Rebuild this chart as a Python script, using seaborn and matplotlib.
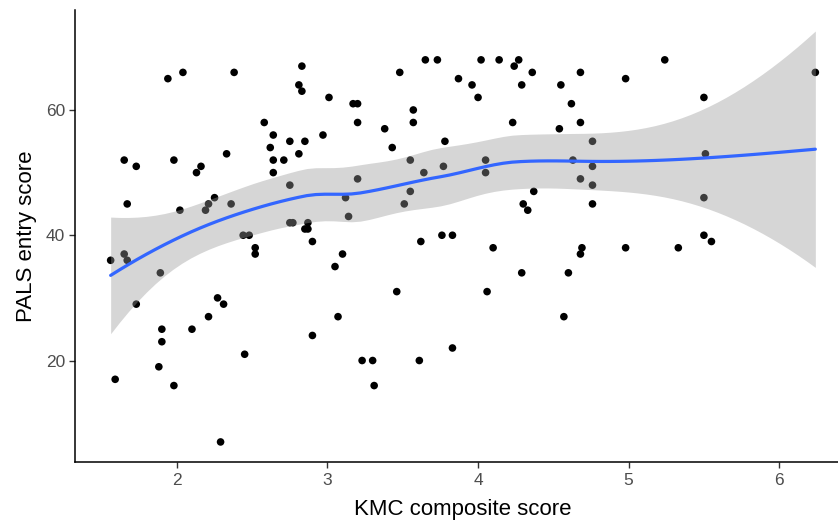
import numpy as np
import pandas as pd
import matplotlib
matplotlib.use("Agg")
import matplotlib.pyplot as plt
import seaborn as sns

# KMC composite score vs PALS entry score
kmc_score = [
    1.56, 1.59, 1.65, 1.67, 1.65, 1.73, 1.67, 1.73, 1.89, 1.90,
    1.90, 1.88, 1.94, 1.98, 1.98, 2.02, 2.04, 2.10, 2.13, 2.16,
    2.19, 2.21, 2.21, 2.25, 2.27, 2.29, 2.31, 2.33, 2.36, 2.38,
    2.44, 2.45, 2.48, 2.52, 2.52, 2.58, 2.62, 2.64, 2.64, 2.64,
    2.71, 2.75, 2.75, 2.75, 2.77, 2.81, 2.81, 2.83, 2.83, 2.85,
    2.85, 2.87, 2.87, 2.90, 2.90, 2.97, 3.01, 3.05, 3.07, 3.10,
    3.12, 3.14, 3.17, 3.20, 3.20, 3.20, 3.23, 3.30, 3.31, 3.38,
    3.43, 3.46, 3.48, 3.51, 3.55, 3.55, 3.57, 3.57, 3.61, 3.62,
    3.64, 3.65, 3.73, 3.76, 3.77, 3.78, 3.83, 3.83, 3.87, 3.96,
    4.00, 4.02, 4.05, 4.05, 4.06, 4.10, 4.14, 4.23, 4.24, 4.27,
    4.29, 4.29, 4.30, 4.33, 4.36, 4.37, 4.54, 4.55, 4.57, 4.60,
    4.62, 4.63, 4.68, 4.68, 4.68, 4.68, 4.69, 4.76, 4.76, 4.76,
    4.76, 4.98, 4.98, 5.24, 5.33, 5.50, 5.51, 5.50, 5.50, 5.55,
    6.24,
]
pals_score = [
    36, 17, 37, 36, 52, 51, 45, 29, 34, 25,
    23, 19, 65, 52, 16, 44, 66, 25, 50, 51,
    44, 45, 27, 46, 30, 7, 29, 53, 45, 66,
    40, 21, 40, 38, 37, 58, 54, 56, 52, 50,
    52, 55, 48, 42, 42, 64, 53, 67, 63, 55,
    41, 42, 41, 39, 24, 56, 62, 35, 27, 37,
    46, 43, 61, 61, 58, 49, 20, 20, 16, 57,
    54, 31, 66, 45, 52, 47, 60, 58, 20, 39,
    50, 68, 68, 40, 51, 55, 40, 22, 65, 64,
    62, 68, 52, 50, 31, 38, 68, 58, 67, 68,
    64, 34, 45, 44, 66, 47, 57, 64, 27, 34,
    61, 52, 66, 58, 49, 37, 38, 55, 51, 48,
    45, 65, 38, 68, 38, 62, 53, 46, 40, 39,
    66,
]


def local_rows(x, x0, q):
    """Operator rows (value, slope) of a tricube weighted quadratic fit at x0"""
    d = np.abs(x - x0)
    h = np.sort(d)[q - 1]
    w = np.clip(1 - (d / h) ** 3, 0, None) ** 3
    X = np.column_stack([np.ones(len(x)), x - x0, (x - x0) ** 2])
    XtW = X.T * w
    coef = np.linalg.solve(XtW @ X, XtW)
    return coef[0], coef[1]


def loess_smooth(x, y, x_new, span=0.75, cell=0.2):
    """Loess like R's default: kd-tree vertices + cubic Hermite interpolation"""
    n = len(x)
    q = int(np.floor(n * span))
    fc = int(np.floor(n * span * cell))
    xs = np.sort(x)

    # build the 1-d kd tree of cut points
    margin = 0.005 * (xs[-1] - xs[0])
    verts = [xs[0] - margin, xs[-1] + margin]

    def split(lo, hi):
        if hi - lo + 1 <= fc:
            return
        m = (lo + hi) // 2
        v = (xs[m] + xs[m + 1]) / 2
        verts.append(v)
        split(lo, m)
        split(m + 1, hi)

    split(0, n - 1)
    verts = np.sort(np.unique(verts))
    val_rows, slope_rows = zip(*[local_rows(x, v, q) for v in verts])
    val_rows = np.array(val_rows)
    slope_rows = np.array(slope_rows)

    def operator(pts):
        out = []
        for p in pts:
            k = np.clip(np.searchsorted(verts, p) - 1, 0, len(verts) - 2)
            v0, v1 = verts[k], verts[k + 1]
            hh = v1 - v0
            t = (p - v0) / hh
            h00 = 2 * t ** 3 - 3 * t ** 2 + 1
            h10 = t ** 3 - 2 * t ** 2 + t
            h01 = -2 * t ** 3 + 3 * t ** 2
            h11 = t ** 3 - t ** 2
            out.append(h00 * val_rows[k] + h10 * hh * slope_rows[k]
                       + h01 * val_rows[k + 1] + h11 * hh * slope_rows[k + 1])
        return np.array(out)

    L = operator(x)
    resid = y - L @ y
    IL = np.eye(n) - L
    M = IL.T @ IL
    delta1 = np.trace(M)
    delta2 = np.trace(M @ M)
    s = np.sqrt(np.sum(resid ** 2) / delta1)
    df = delta1 ** 2 / delta2

    Ln = operator(x_new)
    fit = Ln @ y
    se = s * np.sqrt(np.sum(Ln ** 2, axis=1))
    z = 1.959964
    t = z + (z ** 3 + z) / (4 * df) + (5 * z ** 5 + 16 * z ** 3 + 3 * z) / (96 * df ** 2)
    return fit, fit - t * se, fit + t * se


df = pd.DataFrame({"kmc": kmc_score, "pals": pals_score})
x = df["kmc"].to_numpy(float)
y = df["pals"].to_numpy(float)
grid = np.linspace(x.min(), x.max(), 80)
fit, lower, upper = loess_smooth(x, y, grid)
smooth = pd.DataFrame({"kmc": grid, "fit": fit})

sns.set_theme(style="ticks")
plt.rcParams["font.family"] = ["Liberation Sans", "DejaVu Sans"]

fig = plt.figure(figsize=(8.38, 5.22), dpi=100)
ax = fig.add_axes([0.09, 0.114, 0.925, 0.866])

sns.scatterplot(data=df, x="kmc", y="pals", color="black", s=30,
                edgecolor="none", ax=ax, zorder=2)
ax.fill_between(grid, lower, upper, color="#999999", alpha=0.4,
                linewidth=0, zorder=3)
sns.lineplot(data=smooth, x="kmc", y="fit", color="#3366FF",
             linewidth=2.3, ax=ax, zorder=4)

# ggplot style 5% expansion
xr = x.max() - x.min()
ax.set_xlim(x.min() - 0.05 * xr, x.max() + 0.05 * xr)
ylo = min(y.min(), lower.min())
yhi = max(y.max(), upper.max())
yr = yhi - ylo
ax.set_ylim(ylo - 0.05 * yr, yhi + 0.05 * yr)

ax.set_xticks([2, 3, 4, 5, 6])
ax.set_yticks([20, 40, 60])
ax.set_xlabel("KMC composite score", fontsize=16, color="black", labelpad=8)
ax.set_ylabel("PALS entry score", fontsize=16, color="black", labelpad=6)
ax.tick_params(axis="both", labelsize=12.5, labelcolor="#4D4D4D",
               color="#333333", length=4, width=1)
for side in ["left", "bottom"]:
    ax.spines[side].set_linewidth(1.1)
    ax.spines[side].set_color("black")
sns.despine(ax=ax)

fig.savefig("out.png", dpi=100)
